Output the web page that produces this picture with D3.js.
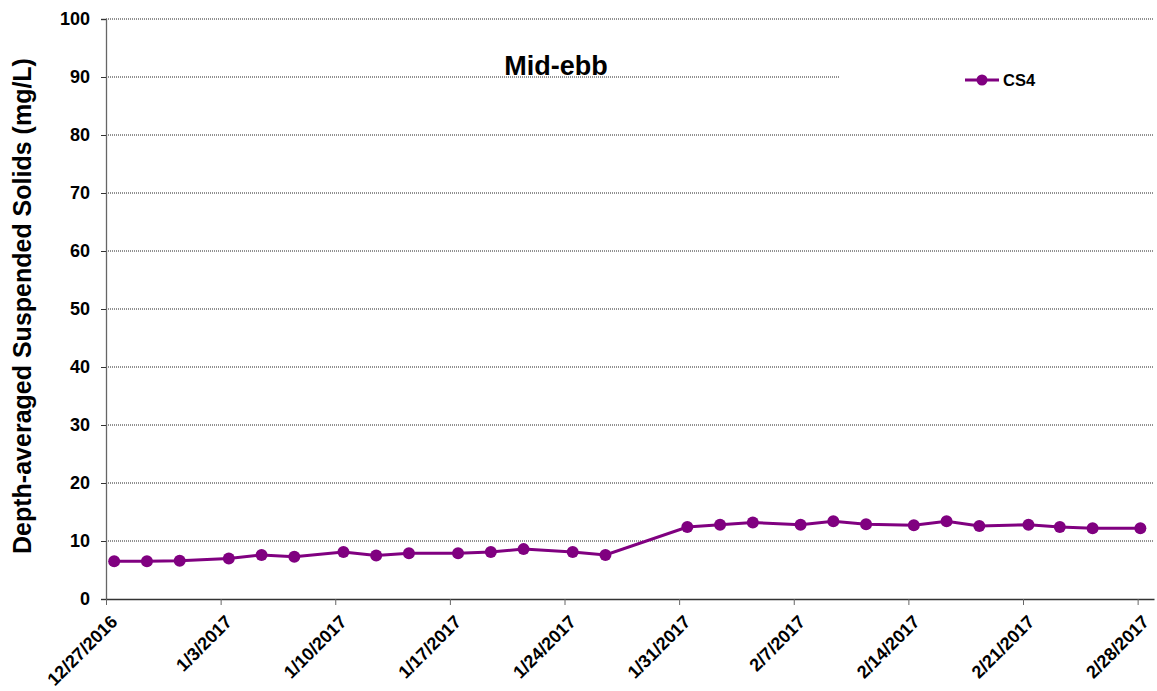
<!DOCTYPE html>
<html><head><meta charset="utf-8">
<script src="https://cdn.jsdelivr.net/npm/d3@7"></script>
<style>body{margin:0;background:#fff}svg{display:block}text{font-family:Arial,"Liberation Sans",sans-serif;font-weight:bold}</style>
</head><body><svg id="c" width="1157" height="691"></svg>
<script>
const dates = ["2016-12-27T12:00","2016-12-29T12:00","2016-12-31T12:00","2017-01-03T12:00","2017-01-05T12:00","2017-01-07T12:00","2017-01-10T12:00","2017-01-12T12:00","2017-01-14T12:00","2017-01-17T12:00","2017-01-19T12:00","2017-01-21T12:00","2017-01-24T12:00","2017-01-26T12:00","2017-01-31T12:00","2017-02-02T12:00","2017-02-04T12:00","2017-02-07T10:00","2017-02-09T10:00","2017-02-11T10:00","2017-02-14T08:00","2017-02-16T08:00","2017-02-18T08:00","2017-02-21T08:00","2017-02-23T06:00","2017-02-25T06:00","2017-02-28T04:00"];
const cs4 = [6.5,6.5,6.6,7.0,7.6,7.3,8.1,7.5,7.9,7.9,8.1,8.6,8.1,7.6,12.4,12.8,13.2,12.8,13.4,12.9,12.7,13.4,12.6,12.8,12.4,12.2,12.2];
const xTickLabels = ["12/27/2016","1/3/2017","1/10/2017","1/17/2017","1/24/2017","1/31/2017","2/7/2017","2/14/2017","2/21/2017","2/28/2017"];
const yTicks = [0,10,20,30,40,50,60,70,80,90,100];
const seriesName = "CS4";
const title = "Mid-ebb";
const yTitle = "Depth-averaged Suspended Solids (mg/L)";

const parse = d3.timeParse("%Y-%m-%dT%H:%M");
const parseTick = d3.timeParse("%m/%d/%Y");
const svg = d3.select("#c");
const L=106, R=1154, T=19, B=599;
const x = d3.scaleTime().domain([parseTick("12/27/2016"), parseTick("3/1/2017")]).range([L,R]);
const y = d3.scaleLinear().domain([0,100]).range([B,T]);
const purple = "#800080";

// gridlines
svg.append("g").selectAll("line").data(yTicks.filter(d=>d>0)).join("line")
  .attr("x1",L).attr("x2",R).attr("y1",d=>y(d)).attr("y2",d=>y(d))
  .attr("stroke","#222").attr("stroke-width",1).attr("stroke-dasharray","1,1");

// title
svg.append("text").attr("x",556).attr("y",75).attr("text-anchor","middle").style("font-size","27px").text(title);

// legend box covering grid
svg.append("rect").attr("x",840).attr("y",62).attr("width",317).attr("height",34).attr("fill","#fff");
svg.append("line").attr("x1",965).attr("x2",999).attr("y1",80).attr("y2",80).attr("stroke",purple).attr("stroke-width",3);
svg.append("circle").attr("cx",982).attr("cy",80).attr("r",5.5).attr("fill",purple);
svg.append("text").attr("x",1003).attr("y",86).style("font-size","16.5px").text(seriesName);

// y axis
const ya = svg.append("g").attr("transform",`translate(${L},0)`)
  .call(d3.axisLeft(y).tickValues(yTicks).tickSize(5).tickPadding(11));
ya.select(".domain").attr("stroke","#666").attr("stroke-width",1.3);
ya.selectAll(".tick line").attr("stroke","#333");
ya.selectAll("text").style("font-size","18px").attr("fill","#000");

// x axis
const xt = xTickLabels.map(parseTick);
const xa = svg.append("g").attr("transform",`translate(0,${B})`)
  .call(d3.axisBottom(x).tickValues(xt).tickSize(6).tickSizeOuter(0).tickFormat((d,i)=>xTickLabels[i]));
xa.select(".domain").attr("stroke","#333").attr("stroke-width",1.3);
xa.selectAll(".tick line").attr("stroke","#666");
xa.selectAll("text").style("font-size","18px").attr("fill","#000")
  .attr("text-anchor","end").attr("dy",null).attr("y",null)
  .attr("transform","translate(12,24) rotate(-45)");

// y title
svg.append("text").attr("transform","translate(31,306) rotate(-90)").attr("text-anchor","middle").style("font-size","25px").text(yTitle);

// series
const data = dates.map((d,i)=>({t:parse(d),v:cs4[i]}));
svg.append("path").datum(data).attr("fill","none").attr("stroke",purple).attr("stroke-width",3)
  .attr("d",d3.line().x(d=>x(d.t)).y(d=>y(d.v)));
svg.append("g").selectAll("circle").data(data).join("circle")
  .attr("cx",d=>x(d.t)).attr("cy",d=>y(d.v)).attr("r",6).attr("fill",purple);
</script></body></html>
